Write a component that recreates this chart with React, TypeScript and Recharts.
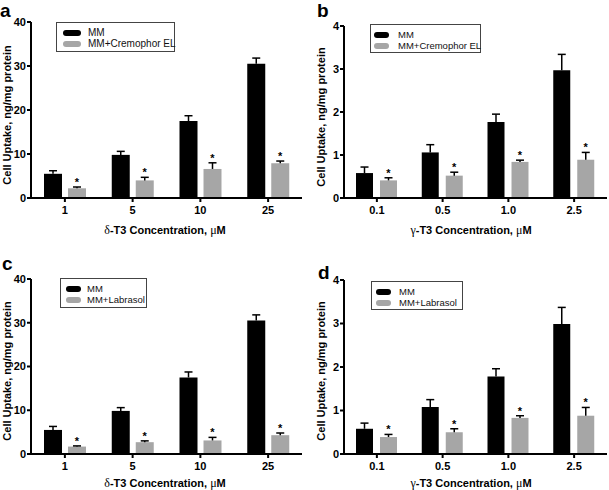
import { Bar, BarChart, ErrorBar, LabelList, Legend, XAxis, YAxis } from "recharts";

const SANS = '"Liberation Sans", Arial, Helvetica, sans-serif';
const SERIF = '"Liberation Serif", "DejaVu Serif", serif';
const BLACK = "#000000";
const GREY = "#a6a6a6";

// categories
const deltaDoses = ["1", "5", "10", "25"];
const gammaDoses = ["0.1", "0.5", "1.0", "2.5"];

// y ticks
const ticks40 = [0, 10, 20, 30, 40];
const ticks4 = [0, 1, 2, 3, 4];

// panel a: delta-T3, MM vs MM+Cremophor EL
const mmA = [5.5, 9.8, 17.5, 30.5];
const mmAErr = [0.7, 0.8, 1.2, 1.3];
const creA = [2.2, 4.0, 6.6, 7.9];
const creAErr = [0.3, 0.7, 1.4, 0.5];

// panel b: gamma-T3, MM vs MM+Cremophor EL
const mmB = [0.58, 1.06, 1.77, 2.97];
const mmBErr = [0.14, 0.18, 0.18, 0.37];
const creB = [0.41, 0.52, 0.84, 0.89];
const creBErr = [0.06, 0.08, 0.04, 0.17];

// panel c: delta-T3, MM vs MM+Labrasol
const mmC = [5.5, 9.85, 17.5, 30.5];
const mmCErr = [0.8, 0.75, 1.25, 1.3];
const labC = [1.7, 2.7, 3.1, 4.3];
const labCErr = [0.15, 0.3, 0.7, 0.5];

// panel d: gamma-T3, MM vs MM+Labrasol
const mmD = [0.58, 1.08, 1.78, 2.99];
const mmDErr = [0.13, 0.17, 0.18, 0.38];
const labD = [0.39, 0.5, 0.83, 0.88];
const labDErr = [0.06, 0.08, 0.05, 0.19];

function makeRows(cats: string[], mm: number[], mmErr: number[], alt: number[], altErr: number[]) {
    return cats.map((dose, i) => ({
        dose,
        mm: mm[i],
        mmErr: [0, mmErr[i]],
        alt: alt[i],
        altErr: [0, altErr[i]],
    }));
}

// asterisk just above the error cap of each grey bar
function starLabel(errs: number[]) {
    return (props: any) => {
        const vb = props.viewBox ?? props;
        const { x, y, width, height } = vb;
        const v = Number(props.value);
        const idx = props.index;
        if (!v || idx == null) return null;
        const top = y - (errs[idx] * Math.abs(height)) / v;
        return (
            <text
                x={x + width / 2}
                y={top - 1}
                textAnchor="middle"
                fontFamily={SANS}
                fontWeight="bold"
                fontSize={11}
                fill={BLACK}
            >
                *
            </text>
        );
    };
}

type LegendCfg = { x: number; y: number; w: number; h: number; fs: number; pad: number; sw: number; gap: number };

function LegendBox({ payload, cfg }: { payload: any[]; cfg: LegendCfg }) {
    return (
        <div
            style={{
                width: cfg.w,
                height: cfg.h,
                boxSizing: "border-box",
                border: "1px solid #444",
                background: "#fff",
                padding: `4px 0 0 ${cfg.pad}px`,
                fontFamily: SANS,
                fontSize: cfg.fs,
                color: "#111",
                whiteSpace: "nowrap",
            }}
        >
            {(payload || []).map((p: any) => (
                <div key={p.value} style={{ display: "flex", alignItems: "center", height: 11 }}>
                    <span
                        style={{
                            display: "inline-block",
                            flex: "0 0 auto",
                            width: cfg.sw,
                            height: 6,
                            borderRadius: 3,
                            background: p.color,
                            marginRight: cfg.gap,
                        }}
                    />
                    <span style={{ lineHeight: 1, whiteSpace: "nowrap", flex: "0 0 auto" }}>{p.value}</span>
                </div>
            ))}
        </div>
    );
}

interface PanelProps {
    left: number;
    top: number;
    width: number;
    height: number;
    margin: { top: number; right: number; bottom: number; left: number };
    yWidth: number;
    max: number;
    ticks: number[];
    cats: string[];
    mm: number[];
    mmErr: number[];
    alt: number[];
    altErr: number[];
    altName: string;
    barSize: number;
    barGap: number;
    letter: string;
    letterPos: [number, number];
    legend: LegendCfg;
    yTitle: [number, number];
    xTitle: [number, number];
    greek: string;
}

function Panel(p: PanelProps) {
    const rows = makeRows(p.cats, p.mm, p.mmErr, p.alt, p.altErr);
    const axisStyle = { stroke: BLACK, strokeWidth: 2 };
    const tickStyle = { fill: BLACK, fontSize: 11, fontWeight: "bold", fontFamily: SANS };
    return (
        <div style={{ position: "absolute", left: p.left, top: p.top, width: p.width, height: p.height }}>
            <BarChart
                width={p.width}
                height={p.height}
                data={rows}
                margin={p.margin}
                barGap={p.barGap}
                barSize={p.barSize}
            >
                <XAxis
                    dataKey="dose"
                    height={20}
                    interval={0}
                    axisLine={axisStyle}
                    tickLine={axisStyle}
                    tickSize={4}
                    tickMargin={4}
                    tick={tickStyle}
                />
                <YAxis
                    type="number"
                    domain={[0, p.max]}
                    ticks={p.ticks}
                    interval={0}
                    width={p.yWidth}
                    axisLine={axisStyle}
                    tickLine={axisStyle}
                    tickSize={4}
                    tickMargin={1}
                    tick={tickStyle}
                />
                <Legend
                    layout="horizontal"
                    verticalAlign="middle"
                    align="center"
                    wrapperStyle={{ left: p.legend.x, top: p.legend.y, width: p.legend.w, height: p.legend.h }}
                    content={(props: any) => <LegendBox payload={props.payload} cfg={p.legend} />}
                />
                <Bar dataKey="mm" name="MM" fill={BLACK} isAnimationActive={false}>
                    <ErrorBar dataKey="mmErr" width={4} stroke={BLACK} strokeWidth={1.5} direction="y" isAnimationActive={false} />
                </Bar>
                <Bar dataKey="alt" name={p.altName} fill={GREY} isAnimationActive={false}>
                    <ErrorBar dataKey="altErr" width={4} stroke={BLACK} strokeWidth={1.5} direction="y" isAnimationActive={false} />
                    <LabelList dataKey="alt" content={starLabel(p.altErr)} />
                </Bar>
            </BarChart>
            <div
                style={{
                    position: "absolute",
                    left: p.letterPos[0],
                    top: p.letterPos[1],
                    fontFamily: SANS,
                    fontWeight: "bold",
                    fontSize: 19,
                    lineHeight: "19px",
                }}
            >
                {p.letter}
            </div>
            <div
                style={{
                    position: "absolute",
                    left: p.yTitle[0],
                    top: p.yTitle[1],
                    transform: "translate(-50%, -50%) rotate(-90deg)",
                    whiteSpace: "nowrap",
                    fontFamily: SANS,
                    fontWeight: "bold",
                    fontSize: 11,
                    lineHeight: 1,
                }}
            >
                Cell Uptake, ng/mg protein
            </div>
            <div
                style={{
                    position: "absolute",
                    left: p.xTitle[0],
                    top: p.xTitle[1],
                    transform: "translate(-50%, -50%)",
                    whiteSpace: "nowrap",
                    fontFamily: SANS,
                    fontWeight: "bold",
                    fontSize: 11,
                    lineHeight: 1,
                }}
            >
                <span style={{ fontFamily: SERIF, fontWeight: "normal", fontSize: 12 }}>{p.greek}</span>
                -T3 Concentration, <span style={{ fontFamily: SERIF, fontWeight: "normal", fontSize: 12 }}>μ</span>M
            </div>
        </div>
    );
}

export default function App() {
    return (
        <div style={{ position: "absolute", left: 0, top: 0, width: 609, height: 490, background: "#fff" }}>
            <style>{".recharts-errorBar line:nth-of-type(3){display:none}"}</style>
            <Panel
                left={0}
                top={0}
                width={305}
                height={245}
                margin={{ top: 22, right: 3, bottom: 27, left: 0 }}
                yWidth={31}
                max={40}
                ticks={ticks40}
                cats={deltaDoses}
                mm={mmA}
                mmErr={mmAErr}
                alt={creA}
                altErr={creAErr}
                altName="MM+Cremophor EL"
                barSize={18}
                barGap={6}
                letter="a"
                letterPos={[0, 1]}
                legend={{ x: 56, y: 22, w: 119, h: 30, fs: 10, pad: 6, sw: 18, gap: 7 }}
                yTitle={[7, 115]}
                xTitle={[165, 230]}
                greek="δ"
            />
            <Panel
                left={305}
                top={0}
                width={304}
                height={245}
                margin={{ top: 26, right: 2, bottom: 27, left: 0 }}
                yWidth={39}
                max={4}
                ticks={ticks4}
                cats={gammaDoses}
                mm={mmB}
                mmErr={mmBErr}
                alt={creB}
                altErr={creBErr}
                altName="MM+Cremophor EL"
                barSize={17}
                barGap={7}
                letter="b"
                letterPos={[12, 1]}
                legend={{ x: 65, y: 24, w: 111, h: 29, fs: 9.5, pad: 3, sw: 15, gap: 9 }}
                yTitle={[16, 117]}
                xTitle={[166, 230]}
                greek="γ"
            />
            <Panel
                left={0}
                top={245}
                width={305}
                height={245}
                margin={{ top: 34, right: 3, bottom: 16, left: 0 }}
                yWidth={31}
                max={40}
                ticks={ticks40}
                cats={deltaDoses}
                mm={mmC}
                mmErr={mmCErr}
                alt={labC}
                altErr={labCErr}
                altName="MM+Labrasol"
                barSize={18}
                barGap={6}
                letter="c"
                letterPos={[2, 9]}
                legend={{ x: 60, y: 33, w: 87, h: 30, fs: 9.5, pad: 5, sw: 15, gap: 6 }}
                yTitle={[7, 126]}
                xTitle={[165, 238]}
                greek="δ"
            />
            <Panel
                left={305}
                top={245}
                width={304}
                height={245}
                margin={{ top: 35, right: 2, bottom: 16, left: 0 }}
                yWidth={39}
                max={4}
                ticks={ticks4}
                cats={gammaDoses}
                mm={mmD}
                mmErr={mmDErr}
                alt={labD}
                altErr={labDErr}
                altName="MM+Labrasol"
                barSize={17}
                barGap={7}
                letter="d"
                letterPos={[13, 18]}
                legend={{ x: 66, y: 36, w: 92, h: 29, fs: 9.5, pad: 4, sw: 15, gap: 8 }}
                yTitle={[16, 126]}
                xTitle={[166, 238]}
                greek="γ"
            />
        </div>
    );
}
